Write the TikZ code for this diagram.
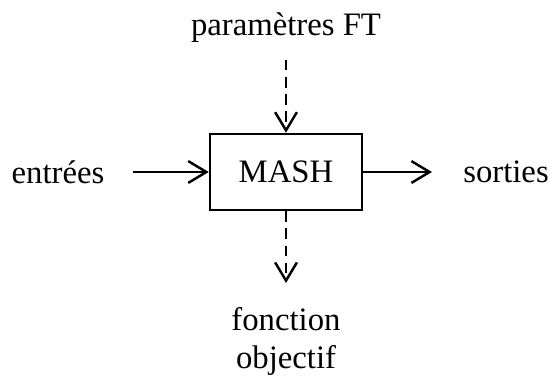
\documentclass[tikz,border=0pt]{standalone}
\usepackage{fontspec}
\setmainfont{Liberation Serif}
\usetikzlibrary{arrows.meta}
\begin{document}
\begin{tikzpicture}[x=0.385pt,y=-0.385pt,font=\fontsize{12.6}{13.6}\selectfont,
            bloc/.style={draw,line width=0.95pt,minimum width=58.5pt,minimum height=29.3pt,inner sep=0pt},
            fleche/.style={line width=0.95pt,-{Straight Barb[length=7pt,width=8.4pt]}},
            pointille/.style={fleche,dash pattern=on 4pt off 2.6pt}]
            \useasboundingbox (0,0) rectangle (555,382);
            \node[bloc] (mash) at (286,172) {MASH};
            \node (param) at (286,28) {paramètres FT};
            \node (entrees) at (58,172) {entrées};
            \node (sorties) at (506,172) {sorties};
            \node[align=center] (objectif) at (286,341) {fonction\\[1pt]objectif};
            \coordinate (hautdep) at (286,60);
            \coordinate (entdep) at (133,172);
            \coordinate (sortarr) at (432,172);
            \coordinate (basarr) at (286,283);
            \draw[pointille] (hautdep) -- (mash.north);
            \draw[fleche] (entdep) -- (mash.west);
            \draw[fleche] (mash.east) -- (sortarr);
            \draw[pointille] (mash.south) -- (basarr);
         \end{tikzpicture}
\end{document}
